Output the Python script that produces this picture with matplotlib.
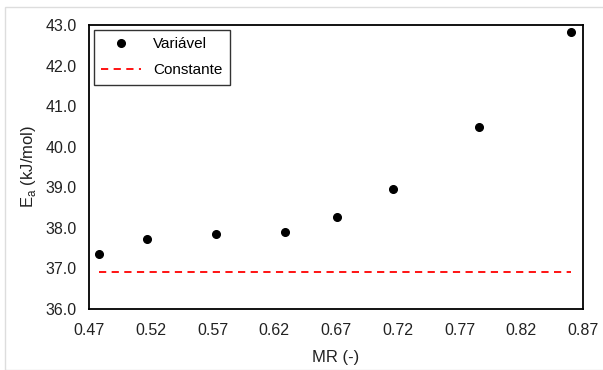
import numpy as np
import matplotlib.pyplot as plt
from matplotlib.patches import Rectangle

plt.rcParams['font.family'] = ['Liberation Sans', 'DejaVu Sans']

mr = [0.478, 0.517, 0.573, 0.629, 0.671, 0.716, 0.786, 0.860]
ea_var = [37.36, 37.72, 37.85, 37.91, 38.26, 38.96, 40.49, 42.83]
ea_const = 36.9

fig = plt.figure(figsize=(6.03, 3.70), dpi=100)
ax = fig.add_axes([89/603, 1 - 309/370, 494/603, 284/370])

ax.plot(mr, ea_var, 'o', color='black', markersize=5.5, label='Variável')
ax.plot([mr[0], mr[-1]], [ea_const, ea_const], '--', color='red',
        linewidth=1.3, dashes=(4, 3), label='Constante')

ax.set_xlim(0.47, 0.87)
ax.set_ylim(36.0, 43.0)
ax.set_xticks(np.arange(0.47, 0.871, 0.05))
ax.set_xticklabels(['%.2f' % v for v in np.arange(0.47, 0.871, 0.05)])
ax.set_yticks(np.arange(36, 43.1, 1))
ax.set_yticklabels(['%.1f' % v for v in np.arange(36, 43.1, 1)])
ax.tick_params(length=0, labelsize=11.5, colors='#222222')
ax.tick_params(axis='x', pad=10)
ax.tick_params(axis='y', pad=9)
for s in ax.spines.values():
    s.set_linewidth(1.3)
    s.set_color('black')

ax.set_xlabel('MR (-)', fontsize=12, color='#222222', labelpad=9)
ax.set_ylabel('E$_\\mathregular{a}$ (kJ/mol)', fontsize=12, color='#222222', labelpad=5)

leg = ax.legend(loc='upper left', fontsize=11, frameon=True, fancybox=False,
                edgecolor='black', borderaxespad=0.3, handlelength=2.6,
                labelspacing=0.8, borderpad=0.5)
leg.get_frame().set_linewidth(1.0)

fig.patches.append(Rectangle((5/603, 0), 1, 1 - 7/370, transform=fig.transFigure,
                             fill=False, edgecolor='#dddddd', linewidth=1.0))

fig.savefig('out.png', dpi=100)
